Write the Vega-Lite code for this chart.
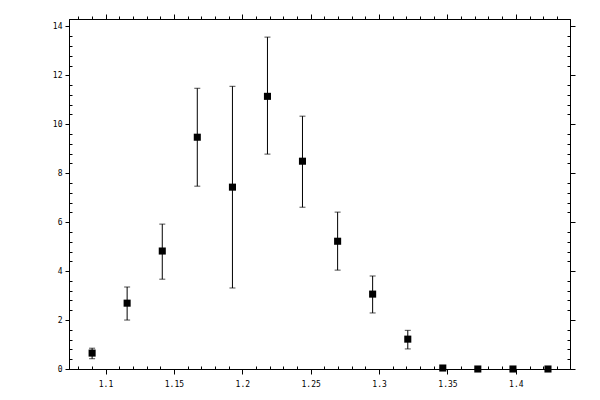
{
  "$schema": "https://vega.github.io/schema/vega-lite/v6.json",
  "width": 501,
  "height": 350,
  "autosize": "none",
  "padding": {"left": 69, "top": 19, "right": 30, "bottom": 31},
  "background": "white",
  "config": {
    "view": {"stroke": "black", "strokeWidth": 1},
    "axis": {
      "domainColor": "black",
      "tickColor": "black",
      "labelColor": "black",
      "labelFont": "DejaVu Sans Mono",
      "labelFontSize": 8,
      "grid": false,
      "title": null
    }
  },
  "data": {
    "values": [
      {"x": 1.0902, "y": 0.65, "lo": 0.42, "hi": 0.85},
      {"x": 1.1158, "y": 2.69, "lo": 2.0, "hi": 3.35},
      {"x": 1.1415, "y": 4.82, "lo": 3.67, "hi": 5.92},
      {"x": 1.1671, "y": 9.47, "lo": 7.47, "hi": 11.47},
      {"x": 1.1928, "y": 7.43, "lo": 3.31, "hi": 11.55},
      {"x": 1.2184, "y": 11.14, "lo": 8.78, "hi": 13.56},
      {"x": 1.244, "y": 8.49, "lo": 6.61, "hi": 10.33},
      {"x": 1.2697, "y": 5.22, "lo": 4.04, "hi": 6.41},
      {"x": 1.2953, "y": 3.06, "lo": 2.29, "hi": 3.8},
      {"x": 1.321, "y": 1.22, "lo": 0.82, "hi": 1.58},
      {"x": 1.3466, "y": 0.04, "lo": 0.04, "hi": 0.04},
      {"x": 1.3722, "y": 0.0, "lo": 0.0, "hi": 0.0},
      {"x": 1.3979, "y": 0.0, "lo": 0.0, "hi": 0.0},
      {"x": 1.4235, "y": 0.0, "lo": 0.0, "hi": 0.0}
    ]
  },
  "resolve": {"axis": {"x": "independent", "y": "independent"}},
  "layer": [
    {
      "mark": {"type": "rule", "color": "black", "strokeWidth": 1},
      "encoding": {
        "x": {"field": "x", "type": "quantitative",
              "scale": {"domain": [1.0733, 1.4396], "nice": false, "zero": false},
              "axis": {"orient": "bottom", "values": [1.1, 1.15, 1.2, 1.25, 1.3, 1.35, 1.4],
                       "format": "~g", "tickSize": 5, "labelPadding": 6}},
        "y": {"field": "lo", "type": "quantitative",
              "scale": {"domain": [0, 14.3], "nice": false},
              "axis": {"orient": "left", "values": [0, 2, 4, 6, 8, 10, 12, 14],
                       "tickSize": 4, "labelPadding": 3}},
        "y2": {"field": "hi"}
      }
    },
    {
      "mark": {"type": "tick", "orient": "horizontal", "color": "black", "size": 6, "thickness": 1},
      "encoding": {
        "x": {"field": "x", "type": "quantitative",
              "axis": {"orient": "top", "values": [1.1, 1.15, 1.2, 1.25, 1.3, 1.35, 1.4],
                       "labels": false, "tickSize": 5}},
        "y": {"field": "lo", "type": "quantitative",
              "axis": {"orient": "right", "values": [0, 2, 4, 6, 8, 10, 12, 14],
                       "labels": false, "tickSize": 5}}
      }
    },
    {
      "mark": {"type": "tick", "orient": "horizontal", "color": "black", "size": 6, "thickness": 1},
      "encoding": {
        "x": {"field": "x", "type": "quantitative",
              "axis": {"orient": "bottom", "labels": false, "domain": false, "tickSize": -3,
                       "values": [1.08, 1.09, 1.11, 1.12, 1.13, 1.14, 1.16, 1.17, 1.18, 1.19, 1.21, 1.22, 1.23, 1.24, 1.26, 1.27, 1.28, 1.29, 1.31, 1.32, 1.33, 1.34, 1.36, 1.37, 1.38, 1.39, 1.41, 1.42, 1.43]}},
        "y": {"field": "hi", "type": "quantitative",
              "axis": {"orient": "left", "labels": false, "domain": false, "tickSize": -3,
                       "values": [0.4, 0.8, 1.2, 1.6, 2.4, 2.8, 3.2, 3.6, 4.4, 4.8, 5.2, 5.6, 6.4, 6.8, 7.2, 7.6, 8.4, 8.8, 9.2, 9.6, 10.4, 10.8, 11.2, 11.6, 12.4, 12.8, 13.2, 13.6]}}
      }
    },
    {
      "mark": {"type": "point", "shape": "square", "filled": true, "color": "black", "opacity": 1, "size": 50},
      "encoding": {
        "x": {"field": "x", "type": "quantitative",
              "axis": {"orient": "top", "labels": false, "domain": false, "tickSize": 3,
                       "values": [1.08, 1.09, 1.11, 1.12, 1.13, 1.14, 1.16, 1.17, 1.18, 1.19, 1.21, 1.22, 1.23, 1.24, 1.26, 1.27, 1.28, 1.29, 1.31, 1.32, 1.33, 1.34, 1.36, 1.37, 1.38, 1.39, 1.41, 1.42, 1.43]}},
        "y": {"field": "y", "type": "quantitative",
              "axis": {"orient": "right", "labels": false, "domain": false, "tickSize": -3,
                       "values": [0.4, 0.8, 1.2, 1.6, 2.4, 2.8, 3.2, 3.6, 4.4, 4.8, 5.2, 5.6, 6.4, 6.8, 7.2, 7.6, 8.4, 8.8, 9.2, 9.6, 10.4, 10.8, 11.2, 11.6, 12.4, 12.8, 13.2, 13.6]}}
      }
    }
  ]
}
